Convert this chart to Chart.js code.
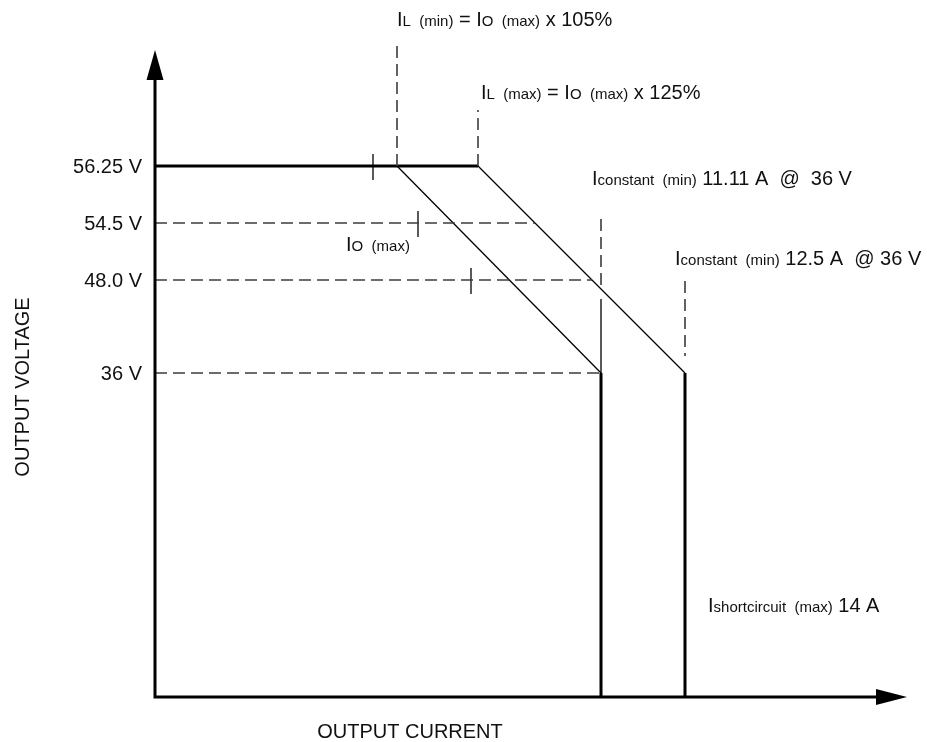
<!DOCTYPE html>
<html>
<head>
<meta charset="utf-8">
<script src="https://cdn.jsdelivr.net/npm/chart.js@4"></script>
<style>
  body { margin: 0; background: #fff; }
  canvas { display: block; }
</style>
</head>
<body>
<canvas id="myChart" width="927" height="742"></canvas>
<script>
// schematic diagram: the axes carry no real scale, positions are in diagram units
const levels = [531, 474, 417, 324];              // 56.25 / 54.5 / 48.0 / 36 V on the schematic voltage axis
const levelLabels = ['56.25 V', '54.5 V', '48.0 V', '36 V'];
const kneeX = [242, 323];                          // IL(min), IL(max)
const limitX = [446, 530];                         // Iconstant(min) 11.11 A, 12.5 A
const ioMaxX = [218, 263, 316];                    // IO(max) marks on 56.25 / 54.5 / 48.0 V
const kneeGuideTop = [656, 587];                   // top of the dashed guides over the knees
const limitGuide = [[478, 409], [416, 341]];       // dashed guides over the current limits
const xMax = 752;
const yMax = 647;

const FONT = '"Liberation Sans", Arial, sans-serif';
const BLACK = '#000';
const GREY = '#3c3c3c';

function seg(points, width, color, dash) {
  return {
    data: points.map(p => ({ x: p[0], y: p[1] })),
    showLine: true,
    borderColor: color || BLACK,
    borderWidth: width,
    borderDash: dash || [],
    pointRadius: 0,
    clip: false
  };
}

// x where the IL(max) slope crosses a level
function onMaxSlope(y) {
  const x0 = kneeX[1], y0 = levels[0], x1 = limitX[1], y1 = levels[3];
  return x0 + (y0 - y) * (x1 - x0) / (y0 - y1);
}

const dash = [12, 6];
const datasets = [
  // horizontal guides
  seg([[0, levels[1]], [onMaxSlope(levels[1]), levels[1]]], 1.6, GREY, dash),
  seg([[0, levels[2]], [onMaxSlope(levels[2]), levels[2]]], 1.6, GREY, dash),
  seg([[0, levels[3]], [limitX[0], levels[3]]], 1.6, GREY, dash),
  // vertical guides
  seg([[kneeX[0], levels[0]], [kneeX[0], kneeGuideTop[0]]], 1.6, GREY, dash),
  seg([[kneeX[1], levels[0]], [kneeX[1], kneeGuideTop[1]]], 1.6, GREY, dash),
  seg([[limitX[0], limitGuide[0][0]], [limitX[0], limitGuide[0][1]]], 1.6, GREY, dash),
  seg([[limitX[1], limitGuide[1][0]], [limitX[1], limitGuide[1][1]]], 1.6, GREY, dash),
  seg([[limitX[0], 398], [limitX[0], levels[3]]], 1.3),
  // curves
  seg([[0, levels[0]], [kneeX[1], levels[0]]], 3),
  seg([[kneeX[0], levels[0]], [limitX[0], levels[3]]], 1.3),
  seg([[kneeX[1], levels[0]], [limitX[1], levels[3]]], 1.3),
  seg([[limitX[0], levels[3]], [limitX[0], 0]], 3),
  seg([[limitX[1], levels[3]], [limitX[1], 0]], 3),
  // IO(max) marks
  ...ioMaxX.map((x, i) => seg([[x, levels[i] - 14], [x, levels[i] + 12]], 1.3))
];

function rich(ctx, x, y, parts) {
  let cx = x;
  for (const [t, s] of parts) {
    ctx.font = s + 'px ' + FONT;
    ctx.fillText(t, cx, y);
    cx += ctx.measureText(t).width;
  }
}

const diagram = {
  id: 'diagram',
  afterDatasetsDraw(chart) {
    const { ctx } = chart;
    const sx = chart.scales.x, sy = chart.scales.y;
    const x0 = sx.getPixelForValue(0), y0 = sy.getPixelForValue(0);
    const xEnd = sx.getPixelForValue(xMax), yEnd = sy.getPixelForValue(yMax);
    ctx.save();
    // axes
    ctx.strokeStyle = BLACK;
    ctx.lineWidth = 3;
    ctx.beginPath();
    ctx.moveTo(x0, yEnd + 28);
    ctx.lineTo(x0, y0);
    ctx.lineTo(xEnd - 30, y0);
    ctx.stroke();
    ctx.fillStyle = BLACK;
    ctx.beginPath();
    ctx.moveTo(x0, yEnd);
    ctx.lineTo(x0 - 8.5, yEnd + 30);
    ctx.lineTo(x0 + 8.5, yEnd + 30);
    ctx.closePath();
    ctx.fill();
    ctx.beginPath();
    ctx.moveTo(xEnd, y0);
    ctx.lineTo(xEnd - 31, y0 - 8);
    ctx.lineTo(xEnd - 31, y0 + 8);
    ctx.closePath();
    ctx.fill();

    // voltage labels
    ctx.fillStyle = '#111';
    ctx.font = '20px ' + FONT;
    ctx.textAlign = 'right';
    ctx.textBaseline = 'middle';
    levels.forEach((v, i) => ctx.fillText(levelLabels[i], x0 - 13, sy.getPixelForValue(v) + 1));

    // axis titles
    ctx.textAlign = 'center';
    ctx.textBaseline = 'alphabetic';
    ctx.fillText('OUTPUT CURRENT', 410, 738);
    ctx.save();
    ctx.translate(29, 387);
    ctx.rotate(-Math.PI / 2);
    ctx.fillText('OUTPUT VOLTAGE', 0, 0);
    ctx.restore();

    // annotations
    ctx.textAlign = 'left';
    const px = v => sx.getPixelForValue(v);
    rich(ctx, px(kneeX[0]), 26, [['I', 20], ['L  (min)', 15], [' = I', 20], ['O  (max)', 15], [' x 105%', 20]]);
    rich(ctx, px(kneeX[1]) + 3, 99, [['I', 20], ['L  (max)', 15], [' = I', 20], ['O  (max)', 15], [' x 125%', 20]]);
    rich(ctx, px(limitX[0]) - 9, 185, [['I', 20], ['constant  (min)', 15], [' 11.11 A  @  36 V', 20]]);
    rich(ctx, px(limitX[1]) - 10, 265, [['I', 20], ['constant  (min)', 15], [' 12.5 A  @ 36 V', 20]]);
    rich(ctx, px(limitX[1]) + 23, 612, [['I', 20], ['shortcircuit  (max)', 15], [' 14 A', 20]]);
    rich(ctx, px(ioMaxX[0]) - 27, 251, [['I', 20], ['O  (max)', 15]]);
    ctx.restore();
  }
};

new Chart(document.getElementById('myChart'), {
  type: 'scatter',
  data: { datasets },
  options: {
    responsive: false,
    animation: false,
    layout: { padding: { left: 155, right: 20, top: 50, bottom: 45 } },
    plugins: { legend: { display: false }, tooltip: { enabled: false } },
    scales: {
      x: { type: 'linear', min: 0, max: xMax, display: false },
      y: { type: 'linear', min: 0, max: yMax, display: false }
    }
  },
  plugins: [diagram]
});
</script>
</body>
</html>
